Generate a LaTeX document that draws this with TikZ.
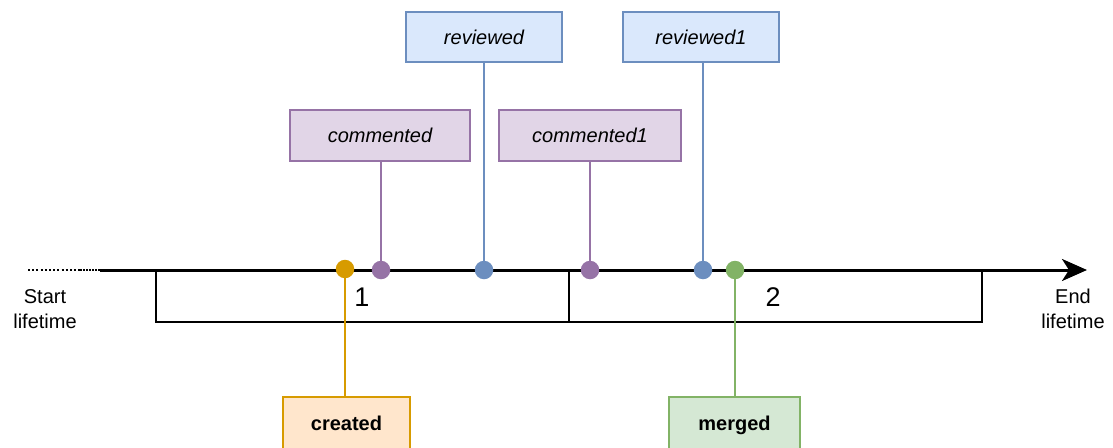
\documentclass[tikz,border=0pt]{standalone}
\usepackage{fontspec}
\setmainfont{Liberation Sans}
\usetikzlibrary{arrows.meta}
\definecolor{orgS}{HTML}{D79B00}\definecolor{orgF}{HTML}{FFE6CC}
\definecolor{purS}{HTML}{9673A6}\definecolor{purF}{HTML}{E1D5E7}
\definecolor{bluS}{HTML}{6C8EBF}\definecolor{bluF}{HTML}{DAE8FC}
\definecolor{grnS}{HTML}{82B366}\definecolor{grnF}{HTML}{D5E8D4}
\begin{document}
\begin{tikzpicture}[x=1pt,y=-1pt,
  txt/.style={font=\fontsize{20}{25}\selectfont},
  evbox/.style={draw=#1S,fill=#1F,line width=2pt,inner sep=0pt,
    minimum height=50pt,text height=15pt,text depth=1pt,txt},
  evdot/.style={circle,fill=#1S,minimum size=18.5pt,inner sep=0pt},
  evline/.style={draw=#1S,line width=2pt},
  seg/.style={draw=black,line width=2pt,minimum width=413pt,minimum height=52pt,inner sep=0pt},
  axis/.style={line width=3pt,black}]
\useasboundingbox (0,0) rectangle (1113,447);

% phase segments below the time axis
\node[seg] (s1) at (362.5,296) {};
\node[seg] (s2) at (775.5,296) {};
\node[font=\fontsize{27}{30}\selectfont] (n1) at (362,297) {1};
\node[font=\fontsize{27}{30}\selectfont] (n2) at (773,297) {2};

% time axis
\coordinate (t0) at (28,270);
\coordinate (t1) at (80,270);
\coordinate (t2) at (100,270);
\coordinate (tEnd) at (1087,270);
\draw[axis,line width=2.2pt,dash pattern=on 2pt off 2.2pt] (t0) -- (t1);
\draw[axis,line width=2.2pt,dash pattern=on 2pt off 1pt] (t1) -- (t2);
\draw[axis,-{Stealth[length=25pt,width=22pt,inset=7pt]}] (t2) -- (tEnd);

\node[txt,align=center] (start) at (45,309) {Start\\lifetime};
\node[txt,align=center] (end) at (1073,309) {End\\lifetime};

% event boxes
\node[evbox=blu,minimum width=156pt] (rev) at (484,37) {\itshape reviewed};
\node[evbox=blu,minimum width=156pt] (rev1) at (701,37) {\itshape reviewed1};
\node[evbox=pur,minimum width=180pt,minimum height=51pt] (com) at (380,135.5) {\itshape commented};
\node[evbox=pur,minimum width=182pt,minimum height=51pt] (com1) at (590,135.5) {\itshape commented1};
\node[evbox=org,minimum width=127pt,minimum height=52pt] (cre) at (346.5,423) {\bfseries created};
\node[evbox=grn,minimum width=131pt,minimum height=52pt] (mer) at (734.5,423) {\bfseries merged};

% event markers on the axis
\node[evdot=pur] (dCom) at (381,270) {};
\node[evdot=blu] (dRev) at (484,270) {};
\node[evdot=pur] (dCom1) at (590,270) {};
\node[evdot=blu] (dRev1) at (703,270) {};

% connectors
\draw[evline=pur] (com.south -| dCom) -- (dCom);
\draw[evline=blu] (rev.south -| dRev) -- (dRev);
\draw[evline=pur] (com1.south -| dCom1) -- (dCom1);
\draw[evline=blu] (rev1.south -| dRev1) -- (dRev1);

\node[evdot=org] (dCre) at (345,269) {};
\node[evdot=grn] (dMer) at (735,270) {};
\draw[evline=org] (dCre) -- (cre.north -| dCre);
\draw[evline=grn] (dMer) -- (mer.north -| dMer);
\end{tikzpicture}
\end{document}
